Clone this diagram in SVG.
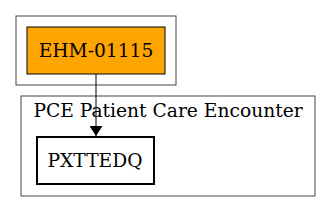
<svg xmlns="http://www.w3.org/2000/svg" width="331" height="212" viewBox="0 0 331 212">
<defs>
<style>
.cl{fill:none;stroke:#444;stroke-width:1}
.t{font-family:"DejaVu Serif",serif;font-size:18.67px;fill:#000;text-anchor:middle}
.e{stroke:#000;stroke-width:1;fill:none}
</style>
<marker id="ah" markerWidth="10" markerHeight="13" refX="10" refY="5" orient="auto" markerUnits="userSpaceOnUse" viewBox="0 0 10 10" preserveAspectRatio="none">
<path d="M0,0 L10,5 L0,10 Z" fill="#000"/>
</marker>
</defs>
<rect width="331" height="212" fill="#fff"/>
<g id="cluster_ehm">
<rect class="cl" x="16" y="16" width="160" height="69"/>
</g>
<g id="cluster_pce">
<rect class="cl" x="21" y="96" width="294" height="100"/>
<text class="t" x="168" y="117">PCE Patient Care Encounter</text>
</g>
<g id="node_ehm">
<rect x="27" y="27" width="138" height="47" fill="#ffa500" stroke="#000" stroke-width="1"/>
<text class="t" x="96" y="57">EHM-01115</text>
</g>
<g id="node_pxttedq">
<rect x="37" y="137" width="117" height="47" fill="#fff" stroke="#000" stroke-width="2"/>
<text class="t" x="95" y="167">PXTTEDQ</text>
</g>
<g id="connectors">
<line class="e" x1="96" y1="74" x2="96" y2="136" marker-end="url(#ah)"/>
</g>
</svg>
